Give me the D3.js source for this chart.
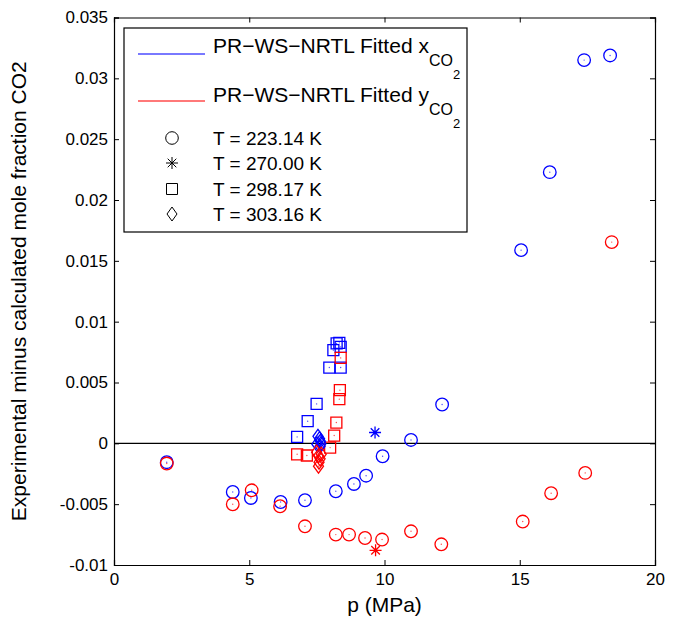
<!DOCTYPE html>
<html>
<head>
<meta charset="utf-8">
<script src="https://cdn.jsdelivr.net/npm/d3@7"></script>
<style>
  body { margin: 0; background: #fff; }
  text { font-family: 'Liberation Sans', Arial, Helvetica, sans-serif; }
</style>
</head>
<body>
<div id="chart"></div>
<script>
// plot box inside the 673x625 window
const MARGIN = { top: 17.5, right: 18, bottom: 60, left: 114 };
const WIDTH = 673 - MARGIN.left - MARGIN.right;
const HEIGHT = 625 - MARGIN.top - MARGIN.bottom;

const X_TICKS = [0, 5, 10, 15, 20];
const Y_TICKS = [-0.01, -0.005, 0, 0.005, 0.01, 0.015, 0.02, 0.025, 0.03, 0.035];
const Y_TICK_LABELS = ['-0.01', '-0.005', '0', '0.005', '0.01', '0.015', '0.02', '0.025', '0.03', '0.035'];

// T = 223.14 K (circles)
const circP_x = [1.95, 4.39, 5.06, 6.16, 7.06, 8.20, 8.87, 9.32, 9.93, 10.98, 12.13, 15.05, 16.11, 17.38, 18.34];
const circV_x = [-0.00155, -0.0040, -0.00449, -0.00482, -0.00468, -0.00394, -0.00334, -0.00266, -0.00106, 0.00028, 0.00319, 0.01588, 0.02229, 0.0315, 0.03188];
const circP_y = [1.95, 4.39, 5.09, 6.14, 7.06, 8.20, 8.69, 9.28, 9.91, 10.98, 12.10, 15.11, 16.16, 17.42, 18.40];
const circV_y = [-0.00166, -0.00501, -0.00386, -0.00517, -0.00682, -0.0075, -0.0075, -0.00778, -0.00791, -0.00723, -0.0083, -0.00643, -0.0041, -0.00243, 0.01654];

// T = 270.00 K (asterisks)
const starP_x = [9.65];
const starV_x = [0.00089];
const starP_y = [9.67];
const starV_y = [-0.00879];

// T = 298.17 K (squares)
const sqP_x = [6.77, 7.16, 7.49, 7.96, 8.38, 8.11, 8.23, 8.33, 8.38];
const sqV_x = [0.00053, 0.00182, 0.00324, 0.00623, 0.00623, 0.00766, 0.00821, 0.00826, 0.00793];
const sqP_y = [6.77, 7.13, 7.99, 8.14, 8.22, 8.33, 8.35, 8.38];
const sqV_y = [-0.0009, -0.001, -0.00035, 0.00064, 0.00171, 0.00363, 0.00437, 0.00702];

// T = 303.16 K (diamonds)
const diaP_x = [7.54, 7.60, 7.63, 7.65, 7.62, 7.50];
const diaV_x = [0.00058, 0.00038, 0.00017, -0.00003, -0.00024, -0.00007];
const diaP_y = [7.49, 7.56, 7.66, 7.62, 7.58, 7.56];
const diaV_y = [-0.00073, -0.00102, -0.00089, -0.00127, -0.00155, -0.00188];

const BLUE = '#0000ff';
const RED = '#ff0000';

let svg = d3.select('#chart')
  .append('svg')
  .attr('width', 673)
  .attr('height', 625)
  .append('g')
  .attr('transform', 'translate(' + MARGIN.left + ',' + MARGIN.top + ')');

let x = d3.scaleLinear().domain([0, 20]).range([0, WIDTH]);
let y = d3.scaleLinear().domain([-0.01, 0.035]).range([HEIGHT, 0]);

// axes, ticks pointing inwards like matlab
let yFmt = (d) => Y_TICK_LABELS[Y_TICKS.indexOf(d)];

let gx = svg.append('g')
  .attr('transform', 'translate(0,' + HEIGHT + ')')
  .call(d3.axisBottom(x).tickValues(X_TICKS).tickSize(-5).tickPadding(8).tickFormat(d3.format('d')));
let gy = svg.append('g')
  .call(d3.axisLeft(y).tickValues(Y_TICKS).tickSize(-5).tickPadding(6).tickFormat(yFmt));
let gt = svg.append('g')
  .call(d3.axisTop(x).tickValues(X_TICKS).tickSize(-5).tickFormat(''));
let gr = svg.append('g')
  .attr('transform', 'translate(' + WIDTH + ',0)')
  .call(d3.axisRight(y).tickValues(Y_TICKS).tickSize(-5).tickFormat(''));

[gx, gy, gt, gr].forEach((g) => {
  g.select('.domain').attr('stroke', '#000').attr('stroke-width', 1.2);
  g.selectAll('.tick line').attr('stroke', '#000').attr('stroke-width', 1);
  g.selectAll('.tick text').attr('fill', '#000').style('font-size', '17px');
});

// zero line
svg.append('line')
  .attr('x1', x(0)).attr('x2', x(20))
  .attr('y1', y(0)).attr('y2', y(0))
  .attr('stroke', '#000').attr('stroke-width', 1.2);

// axis labels
svg.append('text')
  .attr('x', WIDTH / 2)
  .attr('y', HEIGHT + 47)
  .attr('text-anchor', 'middle')
  .style('font-size', '21px')
  .text('p (MPa)');

svg.append('text')
  .attr('transform', 'translate(' + (-MARGIN.left + 26) + ',' + (HEIGHT / 2) + ') rotate(-90)')
  .attr('text-anchor', 'middle')
  .style('font-size', '21px')
  .text('Experimental minus calculated mole fraction CO2');

// marker shapes
function markerPath(kind) {
  if (kind === 'circle') return d3.symbol().type(d3.symbolCircle).size(Math.PI * 6.3 * 6.3)();
  if (kind === 'square') return 'M-5.5,-5.5L5.5,-5.5L5.5,5.5L-5.5,5.5Z';
  if (kind === 'diamond') return 'M0,-7L5,0L0,7L-5,0Z';
  // asterisk
  return 'M-6,0L6,0M0,-6L0,6M-4.3,-4.3L4.3,4.3M-4.3,4.3L4.3,-4.3';
}

function drawMarkers(ps, vs, kind, color) {
  let data = ps.map((p, i) => ({ p: p, v: vs[i] }));
  let g = svg.append('g');
  g.selectAll('path')
    .data(data)
    .enter()
    .append('path')
    .attr('transform', (d) => 'translate(' + x(d.p) + ',' + y(d.v) + ')')
    .attr('d', markerPath(kind))
    .attr('fill', 'none')
    .attr('stroke', color)
    .attr('stroke-width', 1.3);
  if (kind !== 'star') {
    g.selectAll('circle')
      .data(data)
      .enter()
      .append('circle')
      .attr('cx', (d) => x(d.p))
      .attr('cy', (d) => y(d.v))
      .attr('r', 0.7)
      .attr('fill', color)
      .attr('opacity', 0.7);
  }
}

drawMarkers(sqP_x, sqV_x, 'square', BLUE);
drawMarkers(sqP_y, sqV_y, 'square', RED);
drawMarkers(diaP_x, diaV_x, 'diamond', BLUE);
drawMarkers(diaP_y, diaV_y, 'diamond', RED);
drawMarkers(circP_x, circV_x, 'circle', BLUE);
drawMarkers(circP_y, circV_y, 'circle', RED);
drawMarkers(starP_x, starV_x, 'star', BLUE);
drawMarkers(starP_y, starV_y, 'star', RED);

// legend (in window pixels)
let leg = d3.select('#chart svg').append('g');
leg.append('rect')
  .attr('x', 124).attr('y', 28)
  .attr('width', 343).attr('height', 204)
  .attr('fill', '#fff')
  .attr('stroke', '#000')
  .attr('stroke-width', 1.2);

const lineRows = [
  { color: BLUE, ly: 54, ty: 53, main: 'x' },
  { color: RED, ly: 101, ty: 102, main: 'y' }
];
lineRows.forEach((r) => {
  leg.append('line')
    .attr('x1', 138).attr('x2', 205)
    .attr('y1', r.ly).attr('y2', r.ly)
    .attr('stroke', r.color)
    .attr('stroke-opacity', 0.7)
    .attr('stroke-width', 1.3);
  let t = leg.append('text')
    .attr('x', 213).attr('y', r.ty)
    .style('font-size', '21px');
  t.append('tspan').text('PR\u2212WS\u2212NRTL Fitted ' + r.main);
  t.append('tspan').attr('dy', 13).style('font-size', '16px').text('CO');
  t.append('tspan').attr('dy', 13).style('font-size', '13px').text('2');
});

const markRows = [
  { kind: 'circle', label: 'T = 223.14 K', my: 138 },
  { kind: 'star', label: 'T = 270.00 K', my: 163 },
  { kind: 'square', label: 'T = 298.17 K', my: 189 },
  { kind: 'diamond', label: 'T = 303.16 K', my: 214 }
];
markRows.forEach((r) => {
  leg.append('path')
    .attr('transform', 'translate(172,' + r.my + ')')
    .attr('d', markerPath(r.kind))
    .attr('fill', 'none')
    .attr('stroke', '#000')
    .attr('stroke-width', 1);
  leg.append('text')
    .attr('x', 213).attr('y', r.my + 7)
    .style('font-size', '19px')
    .text(r.label);
});
</script>
</body>
</html>
